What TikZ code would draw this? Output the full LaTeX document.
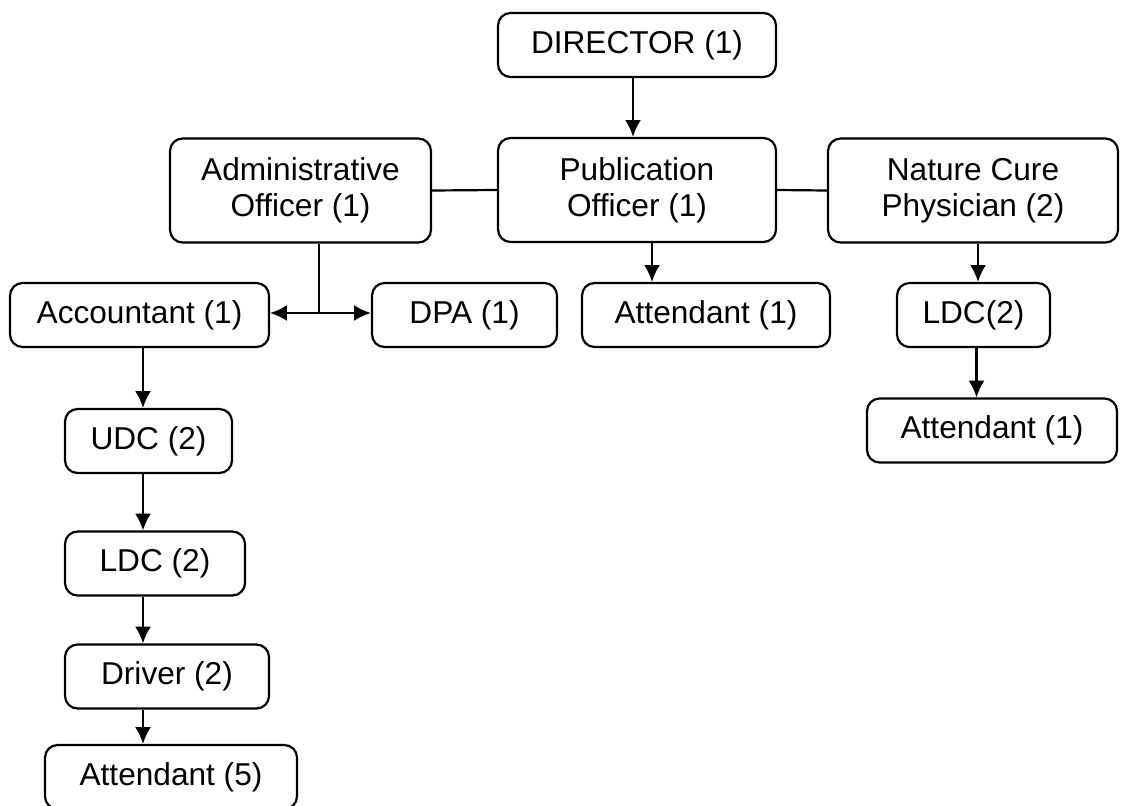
\documentclass[tikz,border=0pt]{standalone}
\usepackage{fontspec}
\setmainfont{Liberation Sans}
\usetikzlibrary{arrows.meta}
\tikzset{
  post/.style={draw,line width=1.25pt,rounded corners=0.25cm,align=center,
    inner sep=0pt,font=\fontsize{18}{20.5}\selectfont,minimum height=1.28cm},
  tall/.style={minimum height=2.08cm}
}
\begin{document}
\begin{tikzpicture}[x=0.02cm,y=-0.02cm,line width=1.25pt,>={Latex[length=9.5pt,width=9pt]}]
\useasboundingbox (0,0) rectangle (1121,805);
\node[post,minimum width=5.56cm](director)at(637,45){DIRECTOR (1)};%top
\node[post,tall,minimum width=5.56cm](pub)at(637,190){Publication\\Officer (1)};
\node[post,tall,minimum width=5.22cm](admin)at(300.5,190.5){Administrative\\Officer (1)};
\node[post,tall,minimum width=5.80cm](ncp)at(973,190.5){Nature Cure\\Physician (2)};
\node[post,minimum width=5.18cm](acct)at(139.5,315){Accountant (1)};
\node[post,minimum width=3.70cm](dpa)at(464.5,315){DPA (1)};
\node[post,minimum width=4.96cm](attpub)at(706,315){Attendant (1)};
\node[post,minimum width=3.06cm](ldcncp)at(973.5,315){LDC(2)};
\node[post,minimum width=5.00cm](attncp)at(992,430.5){Attendant (1)};
\node[post,minimum width=3.34cm](udc)at(148.5,441){UDC (2)};%left column
\node[post,minimum width=3.60cm](ldc)at(155,563.5){LDC (2)};
\node[post,minimum width=4.08cm](driver)at(167,676.5){Driver (2)};
\node[post,minimum width=5.04cm](attacct)at(171,777){Attendant (5)};
\coordinate(split)at(319,313);%branch under admin
\coordinate(spine)at(143,0);
\draw[->]([xshift=-0.08cm]director.south)--([xshift=-0.08cm]pub.north);
\draw(admin.east)--(pub.west);
\draw(pub.east)--(ncp.west);
\draw(admin.south-|split)--(split);
\draw[->](split)--(acct.east|-split);
\draw[->](split)--(dpa.west|-split);
\draw[->]([xshift=0.3cm]pub.south)--([xshift=0.3cm]pub.south|-attpub.north);
\draw[->]([xshift=0.1cm]ncp.south)--([xshift=0.1cm]ncp.south|-ldcncp.north);
\draw[->]([xshift=0.06cm]ldcncp.south)--([xshift=0.06cm]ldcncp.south|-attncp.north);
\draw[->](acct.south-|spine)--(udc.north-|spine);
\draw[->](udc.south-|spine)--(ldc.north-|spine);
\draw[->](ldc.south-|spine)--(driver.north-|spine);
\draw[->](driver.south-|spine)--(attacct.north-|spine);
\end{tikzpicture}
\end{document}
